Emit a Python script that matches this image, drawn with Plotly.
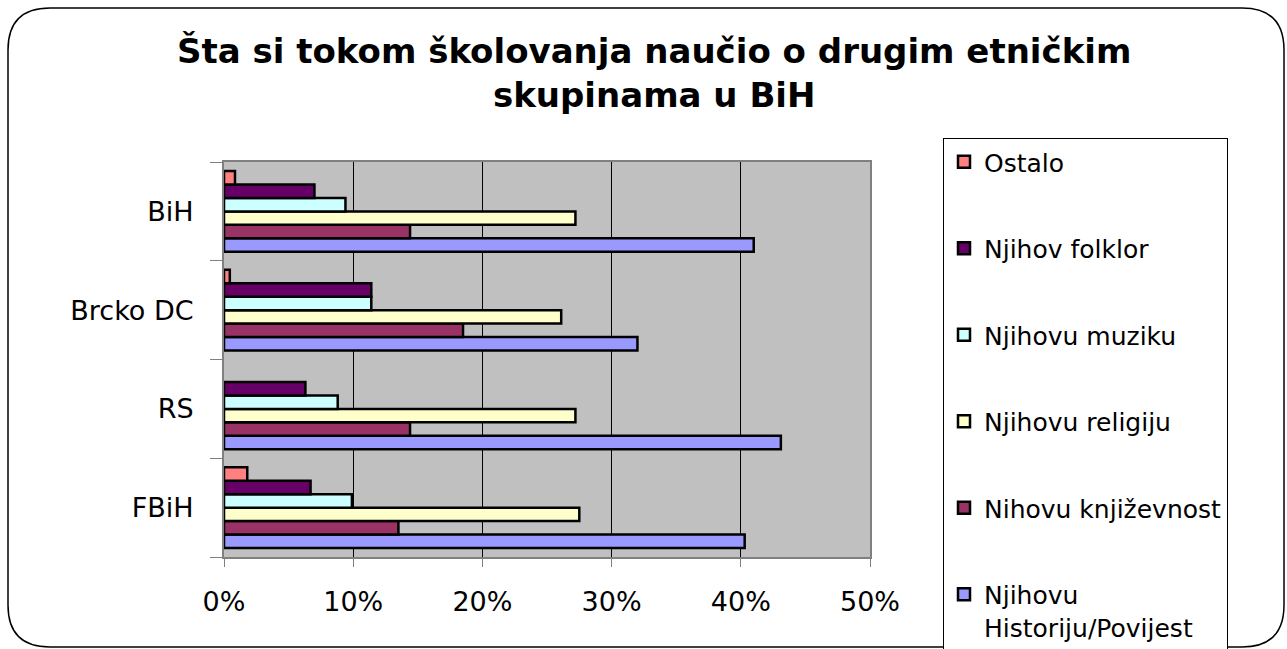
import plotly.graph_objects as go

categories = ["FBiH", "RS", "Brcko DC", "BiH"]

series_names = [
    "Njihovu<br>Historiju/Povijest",
    "Nihovu književnost",
    "Njihovu religiju",
    "Njihovu muziku",
    "Njihov folklor",
    "Ostalo",
]
historiju = [40.3, 43.1, 32.0, 41.0]
knjizevnost = [13.5, 14.4, 18.5, 14.4]
religiju = [27.5, 27.2, 26.1, 27.2]
muziku = [9.9, 8.8, 11.4, 9.4]
folklor = [6.7, 6.3, 11.4, 7.0]
ostalo = [1.8, None, 0.45, 0.85]
series_values = [historiju, knjizevnost, religiju, muziku, folklor, ostalo]
colors = ["#9999FF", "#993366", "#FFFFCC", "#CCFFFF", "#660066", "#FF8080"]

x_tick_values = [0, 10, 20, 30, 40, 50]
x_tick_labels = ["0%", "10%", "20%", "30%", "40%", "50%"]

title_text = "<b>Šta si tokom školovanja naučio o drugim etničkim<br>skupinama u BiH</b>"

W, H = 1287, 649
L, R, T, B = 224, W - 870, 162, H - 557
pw, ph = W - L - R, H - T - B

def px(x):
    return (x - L) / pw

def py(y):
    return (H - B - y) / ph

fig = go.Figure()
n = len(series_names)
for i, (name, vals, col) in enumerate(zip(series_names, series_values, colors)):
    fig.add_trace(go.Bar(
        y=categories, x=vals, name=name, orientation="h",
        marker=dict(color=col, line=dict(color="black", width=2.5)),
        legendgroup=str(i), legendrank=n - i,
    ))

font = "DejaVu Sans, Liberation Sans, Arial, sans-serif"

fig.update_layout(
    width=W, height=H,
    margin=dict(l=L, r=R, t=T, b=B, autoexpand=False),
    paper_bgcolor="white",
    plot_bgcolor="#C0C0C0",
    barmode="group",
    bargap=0.18,
    bargroupgap=0,
    font=dict(family=font, color="black"),
    legend=dict(
        x=px(943), y=py(138), xanchor="left", yanchor="top",
        traceorder="grouped",
        tracegroupgap=51,
        bordercolor="black", borderwidth=1,
        bgcolor="white",
        font=dict(size=25, family=font, color="black"),
        valign="top",
        maxheight=640,
        itemclick=False,
    ),
    showlegend=True,
)

fig.add_annotation(
    text=title_text, xref="paper", yref="paper",
    x=px(654), y=py(29), xanchor="center", yanchor="top",
    showarrow=False, align="center",
    font=dict(size=34, family=font, color="black"),
)

fig.update_xaxes(
    range=[0, 50], tickvals=x_tick_values, ticktext=x_tick_labels,
    showgrid=True, gridcolor="black", gridwidth=1,
    zeroline=False,
    showline=True, linecolor="#808080", linewidth=2, mirror=True,
    ticks="outside", ticklen=8, tickcolor="#808080",
    tickfont=dict(size=27, family=font, color="black"),
    ticklabelstandoff=12,
)
fig.update_yaxes(
    categoryorder="array", categoryarray=categories,
    showgrid=False, zeroline=False,
    showline=True, linecolor="#808080", linewidth=2, mirror=True,
    ticks="outside", ticklen=12, tickcolor="#808080", tickson="boundaries",
    tickfont=dict(size=27, family=font, color="black"),
    ticklabelstandoff=23,
)

# rounded outer chart border
x0, y0, x1, y1 = px(8), py(8), px(1284), py(647)
rx = 42 / pw
ry = 42 / ph
path = (
    f"M {x0+rx},{y0} L {x1-rx},{y0} Q {x1},{y0} {x1},{y0-ry} "
    f"L {x1},{y1+ry} Q {x1},{y1} {x1-rx},{y1} "
    f"L {x0+rx},{y1} Q {x0},{y1} {x0},{y1+ry} "
    f"L {x0},{y0-ry} Q {x0},{y0} {x0+rx},{y0} Z"
)
fig.add_shape(type="path", path=path, xref="paper", yref="paper",
              line=dict(color="black", width=1.5), layer="below")

fig.write_html("out.html", config={"displayModeBar": False},
               post_script="document.body.style.margin='0px';")
